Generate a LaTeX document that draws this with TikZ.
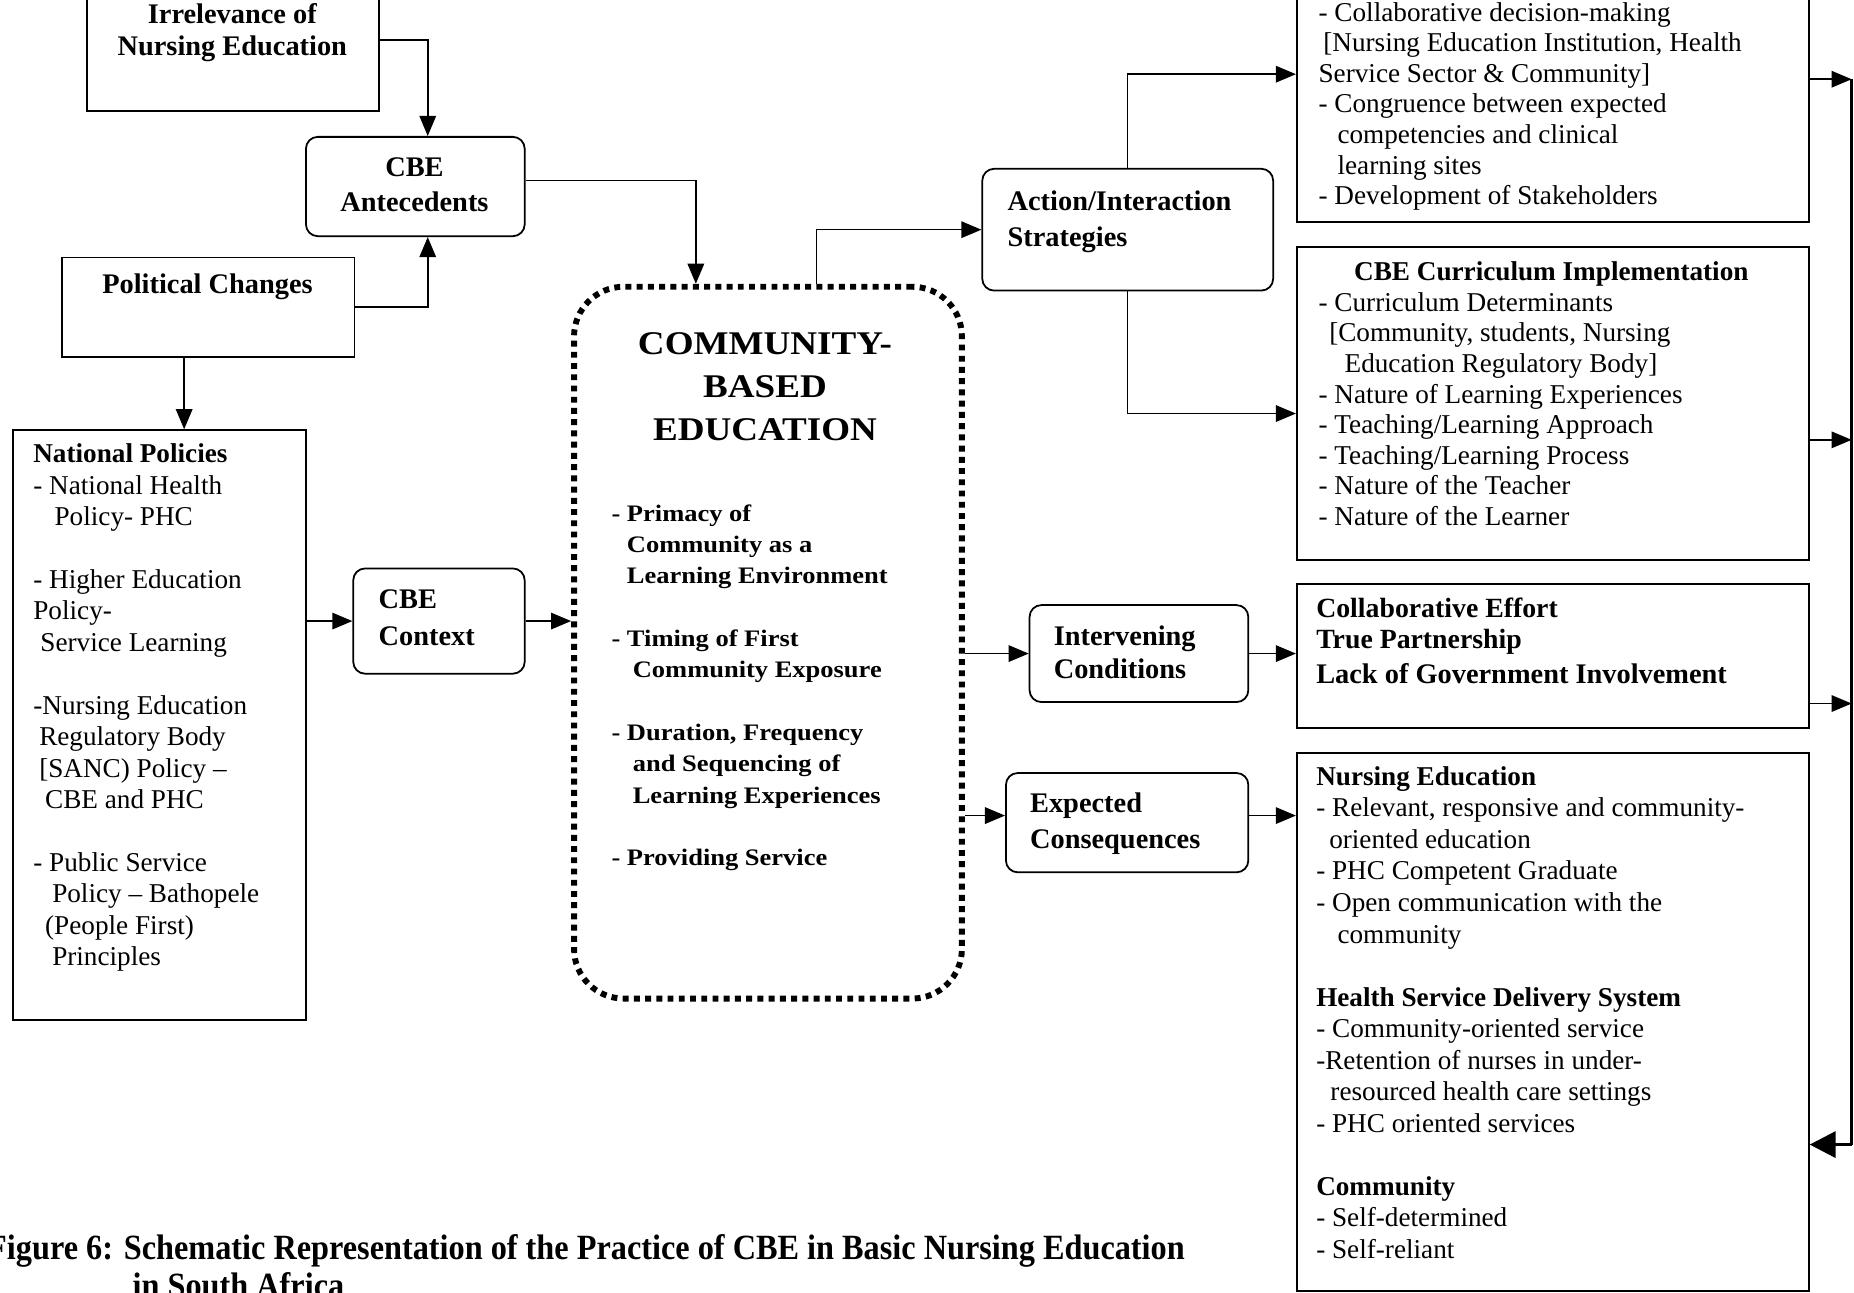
\documentclass[tikz,border=0pt]{standalone}
\usepackage{fontspec}
\setmainfont{Liberation Serif}
\newfontfamily\widebf[FakeStretch=1.12]{Liberation Serif}
\newfontfamily\capbf[FakeStretch=0.91]{Liberation Serif}
\usetikzlibrary{arrows.meta}

\begin{document}
\begin{tikzpicture}[x=1pt,y=-1pt,
  plainbox/.style={draw, line width=1.5pt, inner sep=0pt, anchor=north west},
  roundbox/.style={plainbox, rounded corners=10pt},
  dotbox/.style={draw, line width=5pt, dash pattern=on 5pt off 4.5pt,
    rounded corners=42pt, inner sep=0pt, anchor=north west},
  arr/.style={line width=1.3pt, -{Triangle[length=17pt,width=14pt]}},
  bigarr/.style={line width=3pt, -{Triangle[length=22pt,width=22pt]}},
  body/.style={inner sep=0pt, anchor=north west, align=left,
    font=\fontsize{23}{#1}\selectfont},
  body/.default=26.6,
  label/.style={inner sep=0pt, anchor=north west, align=left,
    font=\fontsize{24}{#1}\selectfont\bfseries},
  label/.default=30,
  clabel/.style={label=#1, anchor=north, align=center},
  clabel/.default=30
]
\useasboundingbox (0,0) rectangle (1568,1093);
\clip (0,0) rectangle (1568,1093);

% ---------- boxes ----------
\node[plainbox, minimum width=247pt, minimum height=120pt] (irr) at (73,-27) {};
\node[roundbox, minimum width=185pt, minimum height=84pt] (ant) at (258,115) {};
\node[plainbox, minimum width=247pt, minimum height=84pt] (pol) at (52,217) {};
\node[plainbox, minimum width=248pt, minimum height=499pt] (np) at (10,363) {};
\node[roundbox, minimum width=145pt, minimum height=89pt] (ctx) at (298,480) {};
\node[dotbox, minimum width=328pt, minimum height=602pt] (cbe) at (483,240) {};
\node[roundbox, minimum width=246pt, minimum height=103pt] (act) at (830,142) {};
\node[plainbox, minimum width=433pt, minimum height=250pt] (top) at (1096,-63) {};
\node[plainbox, minimum width=433pt, minimum height=265pt] (cur) at (1096,208) {};
\node[roundbox, minimum width=185pt, minimum height=82pt] (int) at (870,511) {};
\node[plainbox, minimum width=433pt, minimum height=122pt] (col) at (1096,493) {};
\node[roundbox, minimum width=205pt, minimum height=84pt] (exp) at (850,653) {};
\node[plainbox, minimum width=433pt, minimum height=455pt] (out) at (1096,636) {};

% ---------- texts ----------
\node[clabel=27] (t-irr) at (196.5,1.1) {\strut Irrelevance of\\ Nursing Education};
\node[clabel] (t-ant) at (350.5,128) {\strut CBE\\ Antecedents};
\node[clabel] (t-pol) at (175.5,227) {\strut Political Changes};
\node[body] (t-np) at (28,372.4) {\strut\textbf{National Policies}\\
- National Health\\
\hspace*{18pt}Policy- PHC\\[26.6pt]
- Higher Education\\
Policy-\\
\hspace*{6pt}Service Learning\\[26.6pt]
-Nursing Education\\
\hspace*{5pt}Regulatory Body\\
\hspace*{5pt}[SANC) Policy –\\
\hspace*{10pt}CBE and PHC\\[26.6pt]
- Public Service\\
\hspace*{16pt}Policy – Bathopele\\
\hspace*{10pt}(People First)\\
\hspace*{16pt}Principles};
\node[label=31] (t-ctx) at (320,493) {\strut CBE\\ Context};

\node[inner sep=0pt, anchor=north, align=center,
  font=\widebf\bfseries\fontsize{28}{36.5}\selectfont] (t-title) at (647,273.7)
  {\strut COMMUNITY-\\ BASED\\ EDUCATION};
\node[inner sep=0pt, anchor=north west, align=left,
  font=\widebf\bfseries\fontsize{20}{26.5}\selectfont] (t-list) at (517,422)
  {\strut - Primacy of\\
\hspace*{13pt}Community as a\\
\hspace*{13pt}Learning Environment\\[26.5pt]
- Timing of First\\
\hspace*{18pt}Community Exposure\\[26.5pt]
- Duration, Frequency\\
\hspace*{18pt}and Sequencing of\\
\hspace*{18pt}Learning Experiences\\[26.5pt]
- Providing Service};

\node[label] (t-act) at (852,157) {\strut Action/Interaction\\ Strategies};
\node[body=25.8] (t-top) at (1115,-0.1) {\strut - Collaborative decision-making\\
\hspace*{4pt}[Nursing Education Institution, Health\\
Service Sector \& Community]\\
- Congruence between expected\\
\hspace*{16pt}competencies and clinical\\
\hspace*{16pt}learning sites\\
- Development of Stakeholders};
\node[inner sep=0pt, anchor=north, font=\fontsize{23}{26}\selectfont\bfseries]
  (t-curh) at (1312,218.5) {\strut CBE Curriculum Implementation};
\node[body=25.9] (t-cur) at (1115,244.9) {\strut - Curriculum Determinants\\
\hspace*{9pt}[Community, students, Nursing\\
\hspace*{22pt}Education Regulatory Body]\\
- Nature of Learning Experiences\\
- Teaching/Learning Approach\\
- Teaching/Learning Process\\
- Nature of the Teacher\\
- Nature of the Learner};

\node[label=28] (t-int) at (891,526.4) {\strut Intervening\\ Conditions};
\node[inner sep=0pt, anchor=north west, align=left,
  font=\fontsize{23.5}{26}\selectfont\bfseries] (t-col) at (1113,503.8)
  {\strut Collaborative Effort\\ True Partnership\\[4pt]
   {\fontsize{24}{26}\selectfont Lack of Government Involvement}};
\node[label] (t-exp) at (871,666) {\strut Expected\\ Consequences};
\node[body=26.67] (t-out) at (1113,645.3) {\strut\textbf{Nursing Education}\\
- Relevant, responsive and community-\\
\hspace*{11pt}oriented education\\
- PHC Competent Graduate\\
- Open communication with the\\
\hspace*{18pt}community\\[26.67pt]
\textbf{Health Service Delivery System}\\
- Community-oriented service\\
-Retention of nurses in under-\\
\hspace*{12pt}resourced health care settings\\
- PHC oriented services\\[26.67pt]
\textbf{Community}\\
- Self-determined\\
- Self-reliant};

\node[inner sep=0pt, anchor=north west, align=left,
  font=\capbf\bfseries\fontsize{30}{32}\selectfont] (t-cap) at (-11,1043)
  {\strut Figure 6: Schematic Representation of the Practice of CBE in Basic Nursing Education\\
\hspace*{123pt}in South Africa};

% ---------- connectors ----------
\draw[arr] (irr.east) -| ([xshift=10.5pt]ant.north);
\draw[arr] (pol.east) -| ([xshift=10.5pt]ant.south);
\draw[arr] ([xshift=-20.5pt]pol.south) -- ([xshift=-20.5pt]pol.south |- np.north);
\draw[arr] (np.east |- ctx.west) -- (ctx.west);
\draw[arr] (ctx.east) -- (ctx.east -| cbe.west);
\draw[arr] ([yshift=5pt]ant.east) -| ([xshift=-61pt]cbe.north);
\draw[arr] ([xshift=41pt]cbe.north) |- (act.west);
\draw[arr] (act.north) |- (top.west);
\draw[arr] (act.south) |- ([yshift=-8.5pt]cur.west);
\draw[arr] (cbe.east |- int.west) -- (int.west);
\draw[arr] (int.east) -- (int.east -| col.west);
\draw[arr] ([yshift=6pt]cbe.east |- exp.west) -- ([yshift=6pt]exp.west);
\draw[arr] ([yshift=6pt]exp.east) -- ([yshift=6pt]exp.east -| out.west);

% ---------- feedback rail on the right ----------
\coordinate (r1) at (1566,67);
\coordinate (r2) at (1566,372);
\coordinate (r3) at (1566,595);
\coordinate (r4) at (1566,968);
\draw[line width=2pt] (r1) -- (r4);
\draw[arr] (top.east |- r1) -- (r1);
\draw[arr] (cur.east |- r2) -- (r2);
\draw[arr] (col.east |- r3) -- (r3);
\draw[bigarr] (r4) -- (r4 -| out.east);
\end{tikzpicture}
\end{document}
